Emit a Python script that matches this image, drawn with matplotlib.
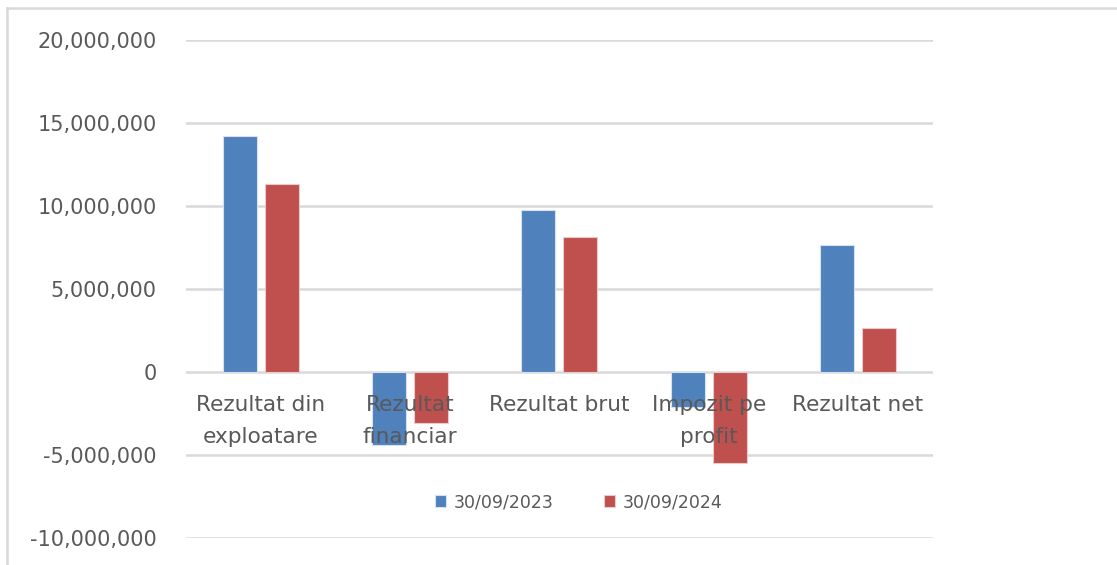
import matplotlib.pyplot as plt
from matplotlib.lines import Line2D
from matplotlib.ticker import FuncFormatter

plt.rcParams['font.family'] = ['DejaVu Sans']

categories = ['Rezultat din\nexploatare', 'Rezultat\nfinanciar', 'Rezultat brut',
              'Impozit pe\nprofit', 'Rezultat net']
series_names = ['30/09/2023', '30/09/2024']
values_2023 = [14200000, -4400000, 9780000, -2100000, 7650000]
values_2024 = [11300000, -3070000, 8130000, -5480000, 2650000]

blue = '#4F81BD'
red = '#C0504D'
grid_c = '#D9D9D9'
text_c = '#595959'

fig = plt.figure(figsize=(11.17, 5.65), dpi=100)
ax = fig.add_axes([0.1665, 0.0478, 0.6685, 0.8814])

x = list(range(len(categories)))
w = 0.228
off = 0.14
ax.bar([i - off for i in x], values_2023, width=w, color=blue, edgecolor='#D6E0EE',
       linewidth=0.8, label=series_names[0], zorder=3)
ax.bar([i + off for i in x], values_2024, width=w, color=red, edgecolor='#EBCACA',
       linewidth=0.8, label=series_names[1], zorder=3)

ax.set_xlim(-0.5, len(categories) - 0.5)
ax.set_ylim(-10000000, 20000000)
ax.set_yticks(range(-10000000, 20000001, 5000000))
ax.yaxis.set_major_formatter(FuncFormatter(lambda v, p: f'{int(v):,}'))
ax.grid(axis='y', color=grid_c, linewidth=1.8, zorder=0)
ax.set_xticks([])
ax.tick_params(axis='y', length=0, pad=21, labelsize=15, labelcolor=text_c)
for s in ax.spines.values():
    s.set_visible(False)

for i, lab in enumerate(categories):
    ax.text(i, 0.288, lab, transform=ax.get_xaxis_transform(), ha='center', va='top',
            fontsize=15.6, color=text_c, linespacing=1.78, zorder=5)

leg = ax.legend(loc='center', bbox_to_anchor=(0.526, 0.072), ncol=2, frameon=False,
                fontsize=12.5, handlelength=0.62, handleheight=0.62, handletextpad=0.45,
                columnspacing=2.95)
for t in leg.get_texts():
    t.set_color(text_c)

# outer chart frame (only top and left visible)
fx, fy = 7 / 1117, 1 - 8 / 565
fig.add_artist(Line2D([fx, 1.0], [fy, fy], transform=fig.transFigure,
                      color=grid_c, linewidth=1.8))
fig.add_artist(Line2D([fx, fx], [0.0, fy], transform=fig.transFigure,
                      color=grid_c, linewidth=1.8))

plt.savefig('out.png')
